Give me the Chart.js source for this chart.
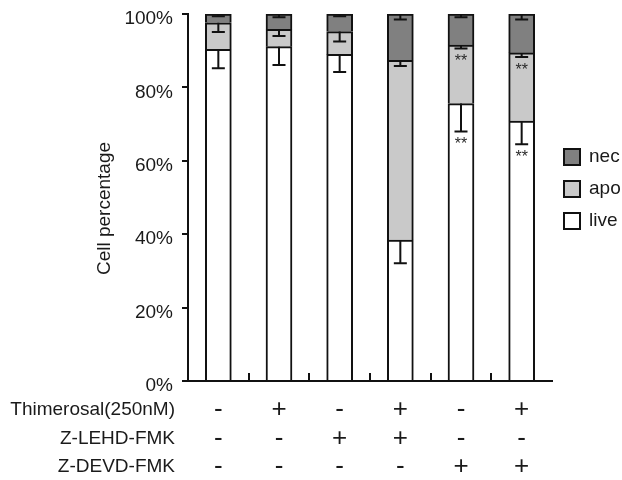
<!DOCTYPE html>
<html>
<head>
<meta charset="utf-8">
<script src="https://cdn.jsdelivr.net/npm/chart.js@4"></script>
<style>
  body { margin: 0; background: #fff; }
  #chart { display: block; }
</style>
</head>
<body>
<canvas id="chart" width="622" height="480"></canvas>
<script>
// groups (hidden labels, the table under the axis describes them)
const groups = ['Control', 'Thimerosal', 'Z-LEHD-FMK', 'Thimerosal + Z-LEHD-FMK', 'Z-DEVD-FMK', 'Thimerosal + Z-DEVD-FMK'];

// stacked percentages, bottom to top
const live = [90.4, 91.1, 89.0, 38.4, 75.6, 70.8];
const apo = [7.2, 4.7, 6.2, 49.0, 15.9, 18.6];
const nec = [2.4, 4.2, 4.8, 12.6, 8.5, 10.6];

// error bars (drawn downward from each segment top)
const liveErr = [5.2, 5.0, 4.8, 6.3, 7.6, 6.3];
const apoErr = [2.5, 1.8, 2.7, 1.6, 0.9, 1.1];
const necErr = [0.6, 0.9, 0.6, 1.5, 0.9, 1.5];

// significance marks
const liveSig = ['', '', '', '', '**', '**'];
const apoSig = ['', '', '', '', '**', '**'];
const necSig = ['', '', '', '', '', ''];

// treatment table
const treatments = ['Thimerosal(250nM)', 'Z-LEHD-FMK', 'Z-DEVD-FMK'];
const thimerosal = ['-', '+', '-', '+', '-', '+'];
const zLEHD = ['-', '-', '+', '+', '-', '-'];
const zDEVD = ['-', '-', '-', '-', '+', '+'];

const yTicks = [0, 20, 40, 60, 80, 100];
const yTitle = 'Cell percentage';

const FONT = 'Liberation Sans, Arial, sans-serif';
const INK = '#1a1a1a';

const errorBars = {
    id: 'errorBars',
    afterDatasetsDraw(chart) {
        const ctx = chart.ctx;
        const xs = chart.scales.x;
        const ys = chart.scales.y;
        const errs = [liveErr, apoErr, necErr];
        const sigs = [liveSig, apoSig, necSig];
        ctx.save();
        ctx.strokeStyle = '#111';
        ctx.lineWidth = 2;
        ctx.fillStyle = '#2a2a2a';
        ctx.font = '16px ' + FONT;
        ctx.textAlign = 'center';
        ctx.textBaseline = 'alphabetic';
        for (let j = 0; j < groups.length; j++) {
            let top = 0;
            chart.data.datasets.forEach((ds, i) => {
                top += ds.data[j];
                const x = xs.getPixelForValue(j);
                const y1 = ys.getPixelForValue(top);
                const y2 = ys.getPixelForValue(top - errs[i][j]);
                ctx.beginPath();
                ctx.moveTo(x, y1);
                ctx.lineTo(x, y2);
                ctx.moveTo(x - 6.5, y2);
                ctx.lineTo(x + 6.5, y2);
                ctx.stroke();
                if (sigs[i][j]) {
                    ctx.fillText(sigs[i][j], x, y2 + 18);
                }
            });
        }
        ctx.restore();
    }
};

const tableAndLegend = {
    id: 'tableAndLegend',
    afterDraw(chart) {
        const ctx = chart.ctx;
        const xs = chart.scales.x;
        const ys = chart.scales.y;
        const area = chart.chartArea;
        ctx.save();

        // small ticks between groups, pointing up
        ctx.strokeStyle = '#111';
        ctx.lineWidth = 2;
        ctx.beginPath();
        for (let j = 1; j < groups.length; j++) {
            const x = Math.round((xs.getPixelForValue(j - 1) + xs.getPixelForValue(j)) / 2);
            ctx.moveTo(x, area.bottom);
            ctx.lineTo(x, area.bottom - 8);
        }
        ctx.stroke();

        // y title, sits a bit below the middle of the axis
        ctx.save();
        ctx.translate(110, (ys.top + ys.bottom) / 2 + 11);
        ctx.rotate(-Math.PI / 2);
        ctx.fillStyle = INK;
        ctx.font = '19px ' + FONT;
        ctx.textAlign = 'center';
        ctx.textBaseline = 'alphabetic';
        ctx.fillText(yTitle, 0, 0);
        ctx.restore();

        // treatment rows
        const rows = [thimerosal, zLEHD, zDEVD];
        const rowY = [410, 439, 467];
        ctx.fillStyle = INK;
        ctx.textBaseline = 'middle';
        rows.forEach((row, r) => {
            ctx.font = '19px ' + FONT;
            ctx.textAlign = 'right';
            ctx.fillText(treatments[r], 175, rowY[r]);
            ctx.font = '26px ' + FONT;
            ctx.textAlign = 'center';
            row.forEach((s, j) => {
                ctx.fillText(s, xs.getPixelForValue(j), rowY[r]);
            });
        });

        // legend, top item is the top of the stack
        const items = chart.data.datasets.slice().reverse();
        ctx.font = '19px ' + FONT;
        ctx.textAlign = 'left';
        items.forEach((ds, k) => {
            const y = 149 + k * 32;
            ctx.fillStyle = ds.backgroundColor;
            ctx.fillRect(564, y, 16, 16);
            ctx.strokeStyle = '#111';
            ctx.lineWidth = 2;
            ctx.strokeRect(564, y, 16, 16);
            ctx.fillStyle = INK;
            ctx.fillText(ds.label, 589, y + 8);
        });
        ctx.restore();
    }
};

new Chart(document.getElementById('chart'), {
    type: 'bar',
    data: {
        labels: groups,
        datasets: [
            { label: 'live', data: live, backgroundColor: '#ffffff' },
            { label: 'apo', data: apo, backgroundColor: '#c9c9c9' },
            { label: 'nec', data: nec, backgroundColor: '#808080' }
        ]
    },
    options: {
        responsive: false,
        animation: false,
        layout: {
            padding: { left: 88, right: 70, top: 14, bottom: 99 }
        },
        datasets: {
            bar: {
                barThickness: 26,
                borderWidth: 2,
                borderColor: '#111'
            }
        },
        plugins: {
            legend: { display: false },
            tooltip: { enabled: false }
        },
        scales: {
            x: {
                stacked: true,
                grid: { display: false },
                ticks: { display: false },
                border: { color: '#111', width: 2 },
                afterFit(scale) {
                    scale.height = 0;
                    scale.paddingLeft = 0;
                    scale.paddingRight = 0;
                }
            },
            y: {
                stacked: true,
                min: 0,
                max: 100,
                afterBuildTicks(scale) {
                    scale.ticks = yTicks.map(v => ({ value: v }));
                },
                afterFit(scale) {
                    scale.width = 100;
                    scale.paddingTop = 0;
                    scale.paddingBottom = 0;
                },
                grid: {
                    drawOnChartArea: false,
                    color: '#111',
                    lineWidth: 2,
                    tickLength: 6
                },
                border: { color: '#111', width: 2 },
                ticks: {
                    padding: 9,
                    labelOffset: 5,
                    color: INK,
                    font: { family: FONT, size: 19 },
                    callback: v => v + '%'
                }
            }
        }
    },
    plugins: [errorBars, tableAndLegend]
});
</script>
</body>
</html>
